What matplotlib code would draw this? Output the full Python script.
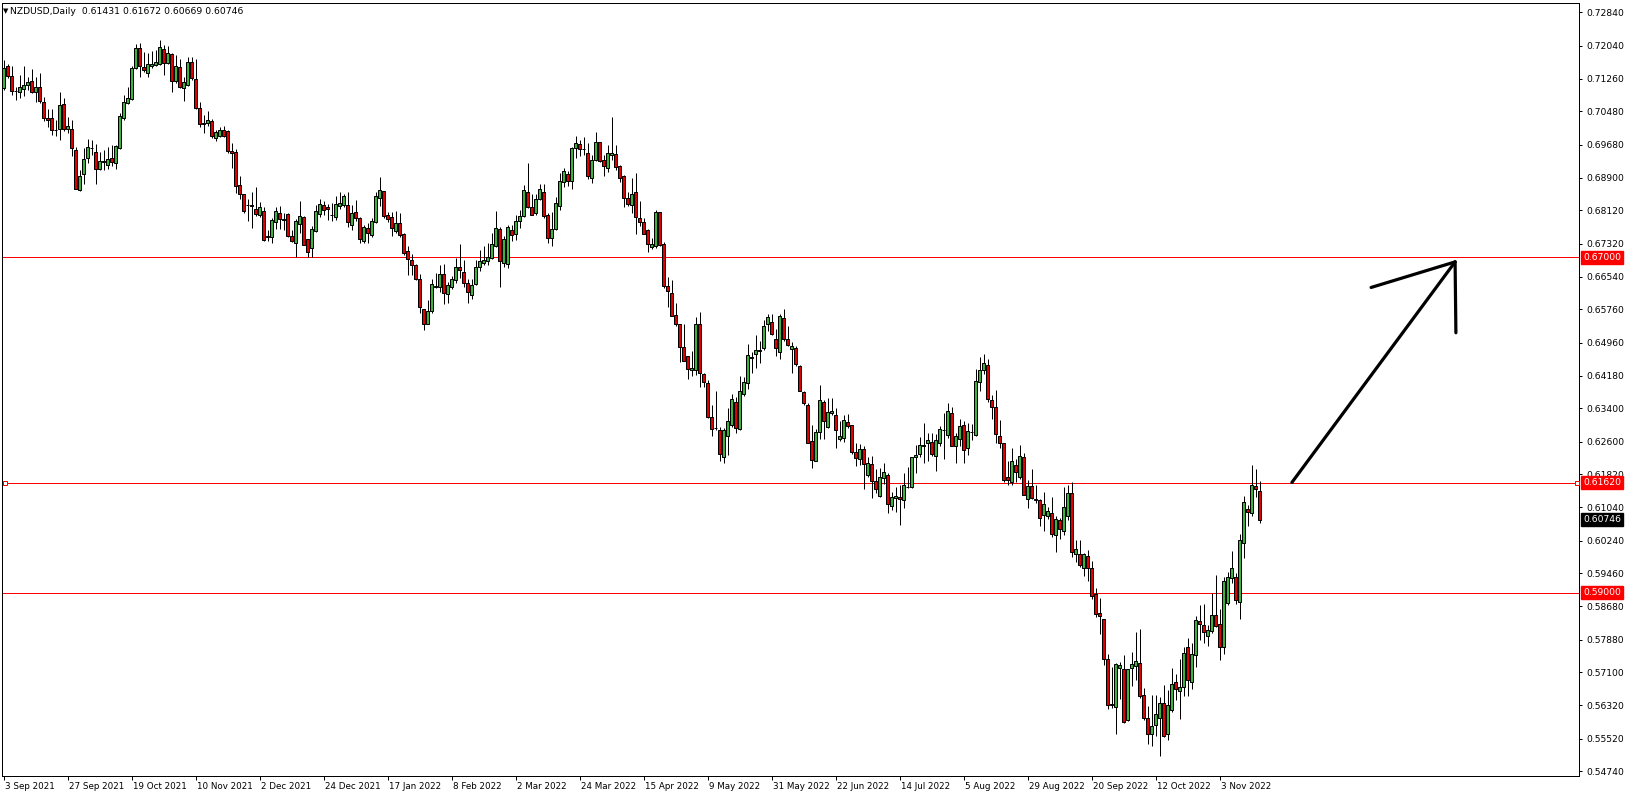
import matplotlib
matplotlib.use("Agg")
import matplotlib.pyplot as plt
import matplotlib.transforms as mtransforms
import numpy as np
import pandas as pd

# ---------------- data ----------------
symbol_title = "NZDUSD,Daily  0.61431 0.61672 0.60669 0.60746"
start_date = "2021-09-03"

opens = [
    .7104,.7156,.7132,.7097,.7093,.7102,.7112,.7120,.7095,.7105,
    .7070,.7032,.7031,.7004,.7007,.7066,.7005,.7007,.6956,.6860,
    .6899,.6936,.6960,.6950,.6910,.6929,.6921,.6937,.6926,.6960,
    .7031,.7068,.7077,.7151,.7199,.7153,.7140,.7157,.7159,.7162,
    .7197,.7164,.7185,.7121,.7153,.7103,.7111,.7166,.7124,.7055,
    .7019,.7020,.7025,.6985,.6990,.7003,.7001,.6953,.6950,.6872,
    .6851,.6824,.6824,.6815,.6802,.6810,.6749,.6749,.6785,.6805,
    .6791,.6803,.6751,.6735,.6780,.6796,.6743,.6723,.6763,.6804,
    .6825,.6819,.6802,.6797,.6823,.6825,.6824,.6778,.6808,.6794,
    .6739,.6770,.6753,.6783,.6841,.6858,.6802,.6796,.6763,.6781,
    .6755,.6715,.6693,.6681,.6647,.6576,.6542,.6573,.6631,.6630,
    .6660,.6612,.6630,.6645,.6677,.6666,.6638,.6611,.6637,.6676,
    .6687,.6692,.6698,.6728,.6767,.6687,.6683,.6764,.6755,.6786,
    .6798,.6855,.6819,.6805,.6839,.6855,.6802,.6745,.6767,.6822,
    .6879,.6898,.6883,.6960,.6969,.6959,.6948,.6888,.6932,.6975,
    .6931,.6914,.6944,.6946,.6918,.6893,.6841,.6824,.6855,.6794,
    .6783,.6765,.6725,.6728,.6808,.6731,.6631,.6615,.6562,.6540,
    .6487,.6464,.6430,.6431,.6540,.6421,.6399,.6318,.6293,.6287,
    .6224,.6274,.6299,.6355,.6290,.6374,.6399,.6460,.6469,.6477,
    .6483,.6540,.6546,.6504,.6475,.6554,.6504,.6482,.6483,.6440,
    .6378,.6348,.6262,.6215,.6284,.6354,.6296,.6328,.6325,.6267,
    .6268,.6306,.6300,.6236,.6219,.6243,.6180,.6207,.6166,.6131,
    .6173,.6181,.6108,.6125,.6128,.6120,.6151,.6151,.6223,.6230,
    .6252,.6256,.6259,.6227,.6257,.6288,.6277,.6328,.6249,.6266,
    .6299,.6244,.6284,.6276,.6402,.6430,.6443,.6359,.6343,.6273,
    .6257,.6176,.6163,.6204,.6175,.6224,.6123,.6155,.6123,.6121,
    .6085,.6082,.6090,.6037,.6073,.6048,.6084,.6137,.5992,.5992,
    .5958,.5988,.5958,.5896,.5851,.5837,.5743,.5634,.5628,.5721,
    .5719,.5596,.5721,.5726,.5732,.5657,.5602,.5563,.5584,.5602,
    .5636,.5563,.5620,.5686,.5666,.5676,.5771,.5687,.5752,.5832,
    .5824,.5797,.5809,.5846,.5825,.5771,.5876,.5936,.5937,.5878,
    .6019,.6099,.6091,.6154,.61431,
]
highs = [
    .7170,.7160,.7155,.7107,.7135,.7156,.7131,.7148,.7131,.7140,
    .7083,.7054,.7054,.7027,.7095,.7079,.7034,.7027,.6964,.6908,
    .6960,.6982,.6980,.6969,.6952,.6956,.6964,.6968,.6968,.7045,
    .7087,.7107,.7156,.7208,.7212,.7190,.7188,.7193,.7194,.7218,
    .7206,.7204,.7188,.7182,.7174,.7131,.7178,.7177,.7174,.7071,
    .7040,.7050,.7030,.7003,.7010,.7012,.7004,.6972,.6958,.6894,
    .6851,.6839,.6856,.6868,.6832,.6819,.6765,.6793,.6821,.6822,
    .6806,.6805,.6765,.6791,.6835,.6798,.6743,.6775,.6825,.6840,
    .6834,.6826,.6829,.6845,.6856,.6852,.6856,.6824,.6837,.6795,
    .6777,.6781,.6793,.6856,.6892,.6858,.6809,.6809,.6810,.6805,
    .6757,.6727,.6709,.6685,.6660,.6576,.6598,.6647,.6662,.6682,
    .6684,.6641,.6655,.6699,.6732,.6693,.6647,.6648,.6693,.6717,
    .6728,.6733,.6757,.6810,.6773,.6751,.6776,.6778,.6801,.6813,
    .6872,.6926,.6850,.6852,.6875,.6875,.6805,.6807,.6843,.6900,
    .6914,.6906,.6964,.6989,.6980,.6986,.6972,.6944,.6998,.6976,
    .6944,.6968,.7035,.6968,.6920,.6896,.6856,.6890,.6902,.6835,
    .6793,.6767,.6745,.6813,.6809,.6736,.6654,.6646,.6592,.6542,
    .6542,.6464,.6476,.6557,.6569,.6425,.6407,.6348,.6381,.6296,
    .6294,.6341,.6375,.6366,.6417,.6415,.6493,.6475,.6515,.6500,
    .6550,.6565,.6565,.6528,.6564,.6577,.6536,.6499,.6488,.6443,
    .6380,.6352,.6300,.6290,.6395,.6360,.6365,.6364,.6340,.6310,
    .6324,.6326,.6300,.6258,.6255,.6251,.6224,.6227,.6194,.6197,
    .6209,.6185,.6141,.6153,.6157,.6185,.6201,.6224,.6252,.6272,
    .6304,.6280,.6280,.6278,.6298,.6328,.6352,.6342,.6280,.6314,
    .6310,.6304,.6303,.6433,.6462,.6470,.6457,.6372,.6384,.6312,
    .6258,.6214,.6246,.6218,.6253,.6234,.6169,.6195,.6156,.6123,
    .6140,.6104,.6129,.6082,.6078,.6153,.6157,.6163,.6026,.6026,
    .5994,.6002,.5976,.5911,.5887,.5837,.5753,.5723,.5733,.5734,
    .5751,.5719,.5758,.5807,.5813,.5673,.5629,.5656,.5656,.5652,
    .5681,.5668,.5721,.5707,.5742,.5771,.5793,.5779,.5844,.5870,
    .5873,.5824,.5900,.5942,.5862,.5938,.5950,.5999,.5947,.6041,
    .6131,.6110,.6204,.6195,.61672,
]
lows = [
    .7100,.7127,.7087,.7075,.7081,.7085,.7099,.7091,.7071,.7069,
    .7024,.7011,.6992,.6989,.6980,.7000,.6996,.6941,.6862,.6858,
    .6874,.6926,.6944,.6874,.6907,.6908,.6910,.6918,.6911,.6958,
    .7027,.7066,.7075,.7148,.7131,.7143,.7129,.7151,.7155,.7159,
    .7135,.7160,.7093,.7115,.7103,.7072,.7108,.7123,.7054,.7011,
    .6996,.7012,.6984,.6978,.6988,.6988,.6948,.6914,.6854,.6839,
    .6805,.6787,.6771,.6798,.6797,.6740,.6740,.6735,.6767,.6768,
    .6765,.6749,.6737,.6700,.6757,.6729,.6700,.6700,.6761,.6795,
    .6801,.6789,.6787,.6789,.6814,.6821,.6773,.6765,.6787,.6733,
    .6733,.6735,.6749,.6781,.6822,.6793,.6785,.6751,.6759,.6749,
    .6705,.6658,.6658,.6646,.6566,.6526,.6541,.6566,.6626,.6616,
    .6588,.6592,.6624,.6639,.6651,.6630,.6592,.6600,.6633,.6667,
    .6682,.6681,.6695,.6725,.6630,.6677,.6675,.6740,.6741,.6769,
    .6795,.6817,.6801,.6802,.6836,.6793,.6735,.6728,.6765,.6813,
    .6867,.6870,.6864,.6936,.6941,.6944,.6887,.6876,.6930,.6927,
    .6895,.6904,.6932,.6908,.6880,.6821,.6822,.6805,.6755,.6774,
    .6755,.6713,.6720,.6723,.6728,.6626,.6581,.6560,.6537,.6450,
    .6452,.6409,.6418,.6419,.6391,.6391,.6317,.6274,.6288,.6215,
    .6210,.6228,.6296,.6280,.6288,.6368,.6387,.6423,.6435,.6447,
    .6480,.6523,.6515,.6465,.6458,.6501,.6488,.6423,.6441,.6380,
    .6347,.6256,.6197,.6213,.6267,.6267,.6294,.6325,.6244,.6263,
    .6260,.6294,.6232,.6203,.6205,.6147,.6177,.6125,.6137,.6129,
    .6159,.6091,.6097,.6093,.6061,.6101,.6149,.6149,.6185,.6224,
    .6210,.6213,.6225,.6191,.6249,.6218,.6268,.6250,.6210,.6250,
    .6210,.6229,.6264,.6274,.6382,.6422,.6354,.6315,.6258,.6245,
    .6165,.6156,.6157,.6163,.6171,.6132,.6101,.6123,.6113,.6060,
    .6048,.6077,.6034,.5997,.6029,.6038,.6074,.5986,.5974,.5962,
    .5939,.5929,.5884,.5841,.5802,.5728,.5622,.5624,.5563,.5646,
    .5590,.5594,.5678,.5691,.5648,.5596,.5540,.5534,.5558,.5510,
    .5555,.5548,.5616,.5645,.5598,.5653,.5653,.5670,.5723,.5787,
    .5779,.5773,.5804,.5819,.5739,.5753,.5870,.5922,.5872,.5837,
    .5983,.6060,.6083,.6129,.60669,
]
closes = [
    .7151,.7133,.7097,.7096,.7107,.7111,.7117,.7095,.7105,.7072,
    .7031,.7027,.7004,.7003,.7062,.7007,.7012,.6960,.6864,.6895,
    .6934,.6962,.6961,.6910,.6929,.6928,.6934,.6928,.6965,.7036,
    .7070,.7081,.7151,.7199,.7157,.7147,.7162,.7161,.7166,.7201,
    .7164,.7186,.7121,.7156,.7105,.7117,.7166,.7127,.7056,.7019,
    .7020,.7027,.6990,.6998,.7003,.6990,.6954,.6948,.6871,.6852,
    .6811,.6825,.6823,.6803,.6819,.6741,.6750,.6789,.6810,.6792,
    .6790,.6751,.6740,.6786,.6798,.6730,.6713,.6767,.6810,.6826,
    .6812,.6814,.6801,.6826,.6829,.6846,.6783,.6806,.6794,.6744,
    .6772,.6759,.6787,.6846,.6860,.6799,.6792,.6769,.6781,.6753,
    .6711,.6697,.6682,.6649,.6581,.6540,.6573,.6636,.6630,.6660,
    .6614,.6633,.6647,.6678,.6670,.6639,.6616,.6635,.6676,.6690,
    .6693,.6700,.6731,.6771,.6692,.6743,.6773,.6754,.6786,.6798,
    .6860,.6820,.6802,.6840,.6862,.6799,.6745,.6767,.6829,.6882,
    .6906,.6882,.6960,.6972,.6959,.6958,.6895,.6933,.6974,.6930,
    .6918,.6948,.6948,.6916,.6888,.6842,.6826,.6850,.6797,.6785,
    .6756,.6731,.6732,.6808,.6730,.6631,.6620,.6561,.6540,.6487,
    .6453,.6434,.6436,.6542,.6423,.6403,.6320,.6290,.6292,.6230,
    .6287,.6309,.6361,.6294,.6382,.6402,.6466,.6461,.6478,.6480,
    .6536,.6557,.6516,.6483,.6560,.6504,.6490,.6488,.6445,.6382,
    .6353,.6258,.6217,.6283,.6360,.6310,.6331,.6334,.6287,.6274,
    .6313,.6298,.6236,.6221,.6242,.6207,.6209,.6167,.6147,.6175,
    .6187,.6112,.6128,.6131,.6123,.6157,.6152,.6223,.6228,.6252,
    .6249,.6264,.6230,.6264,.6290,.6289,.6333,.6251,.6273,.6298,
    .6240,.6285,.6283,.6405,.6431,.6447,.6363,.6342,.6279,.6257,
    .6169,.6168,.6214,.6187,.6226,.6134,.6155,.6127,.6120,.6079,
    .6112,.6094,.6039,.6075,.6053,.6104,.6137,.5998,.6004,.5965,
    .5993,.5958,.5893,.5850,.5844,.5741,.5633,.5633,.5730,.5727,
    .5592,.5717,.5729,.5737,.5654,.5602,.5563,.5582,.5610,.5638,
    .5559,.5633,.5683,.5670,.5676,.5756,.5691,.5755,.5836,.5826,
    .5807,.5810,.5846,.5821,.5771,.5928,.5938,.5958,.5882,.6025,
    .6116,.6093,.6157,.6148,.60746,
]

level_lines = [0.67000, 0.61620, 0.59000]
last_price = 0.60746
y_tick_values = [0.72840, 0.72040, 0.71260, 0.70480, 0.69680, 0.68900, 0.68120,
                 0.67320, 0.66540, 0.65760, 0.64960, 0.64180, 0.63400, 0.62600,
                 0.61820, 0.61040, 0.60240, 0.59460, 0.58680, 0.57880, 0.57100,
                 0.56320, 0.55520, 0.54740]
x_tick_labels = ["3 Sep 2021", "27 Sep 2021", "19 Oct 2021", "10 Nov 2021",
                 "2 Dec 2021", "24 Dec 2021", "17 Jan 2022", "8 Feb 2022",
                 "2 Mar 2022", "24 Mar 2022", "15 Apr 2022", "9 May 2022",
                 "31 May 2022", "22 Jun 2022", "14 Jul 2022", "5 Aug 2022",
                 "29 Aug 2022", "20 Sep 2022", "12 Oct 2022", "3 Nov 2022"]

# hand-drawn arrow annotation (bar index, price)
arrow_segments = [
    ((322.1, 0.6163), (362.9, 0.6689)),
    ((341.9, 0.6628), (362.9, 0.6689)),
    ((362.9, 0.6689), (363.1, 0.6520)),
]

# ---------------- figure ----------------
W, H = 1626, 795
PX = 0.72  # one pixel in points at dpi 100
fig = plt.figure(figsize=(W / 100, H / 100), dpi=100)
fig.patch.set_facecolor("white")
ax = fig.add_axes([2 / W, 1 - 776 / H, 1577 / W, 773 / H])
ax.set_facecolor("white")

n = len(closes)
idx = np.arange(n)
dates = pd.bdate_range(start_date, periods=n)
o = np.array(opens); h = np.array(highs); l = np.array(lows); c = np.array(closes)

bull_color = "#3cb43c"
bear_color = "#e00000"
colors = np.where(c >= o, bull_color, bear_color)

ax.vlines(idx, l, h, color="black", linewidth=PX, zorder=2)
ax.bar(idx, np.abs(c - o), bottom=np.minimum(o, c), width=0.55,
       color=colors, edgecolor="black", linewidth=PX, zorder=3)

# horizontal levels
for lv in level_lines:
    ax.axhline(lv, color="#ff0000", linewidth=PX, zorder=1)
ax.plot([0.4, 393.4], [level_lines[1], level_lines[1]], linestyle="none",
        marker="s", markersize=3, markerfacecolor="white",
        markeredgecolor="#ff0000", markeredgewidth=PX, zorder=4, clip_on=False)

# arrow
for (x0, y0), (x1, y1) in arrow_segments:
    ax.plot([x0, x1], [y0, y1], color="black", linewidth=2.3,
            solid_capstyle="round", zorder=5)

ax.set_xlim(-0.375, 393.875)
ax.set_ylim(0.54629, 0.730642)

# spines
for s in ax.spines.values():
    s.set_color("black")
    s.set_linewidth(PX)

# y axis on the right
ax.yaxis.tick_right()
ax.set_yticks(y_tick_values)
ax.set_yticklabels([f"{v:.5f}" for v in y_tick_values])
ax.tick_params(axis="y", direction="out", length=3 * PX, width=PX,
               pad=3, labelsize=6.6, colors="black")

# x axis dates
tick_pos = []
for lab in x_tick_labels:
    d = pd.to_datetime(lab, format="%d %b %Y")
    tick_pos.append(int(np.searchsorted(dates, d)))
ax.set_xticks(tick_pos)
ax.set_xticklabels(x_tick_labels)
ax.tick_params(axis="x", direction="out", length=4 * PX, width=PX,
               pad=1.5, labelsize=6.3, colors="black")
offset = mtransforms.ScaledTranslation(1 / 100, 0, fig.dpi_scale_trans)
for t in ax.get_xticklabels():
    t.set_horizontalalignment("left")
    t.set_transform(t.get_transform() + offset)

# price boxes on the axis
label_x = 1.0 + 4 / 1577
for lv in level_lines:
    ax.annotate(f"{lv:.5f}", xy=(label_x, lv), xycoords=("axes fraction", "data"),
                va="center", ha="left", fontsize=6.6, color="white",
                bbox=dict(boxstyle="square,pad=0.22", fc="#ff0000", ec="#ff0000"),
                zorder=10, annotation_clip=False)
ax.annotate(f"{last_price:.5f}", xy=(label_x, last_price),
            xycoords=("axes fraction", "data"), va="center", ha="left",
            fontsize=6.6, color="white",
            bbox=dict(boxstyle="square,pad=0.22", fc="black", ec="black"),
            zorder=10, annotation_clip=False)

# title
fig.text(3 / W, 1 - 11 / H, "\u25BC", fontsize=5, va="center", ha="left", color="black")
fig.text(10 / W, 1 - 11 / H, symbol_title, fontsize=6.7, va="center", ha="left",
         color="black")

fig.savefig("out.png", dpi=100, facecolor="white")
